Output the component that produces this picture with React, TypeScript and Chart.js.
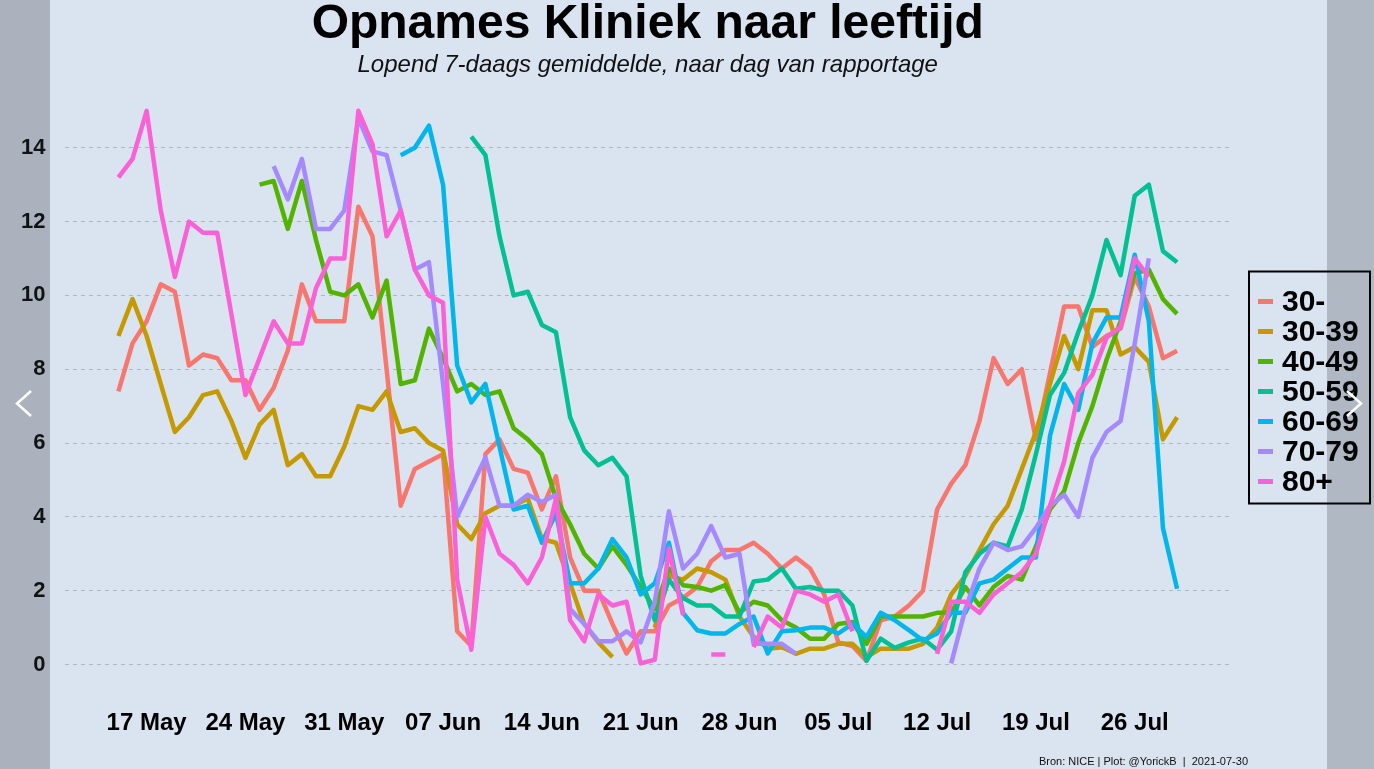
import React, { useEffect, useRef } from "react";
import { Chart, registerables } from "chart.js";

Chart.register(...registerables);

const n = null;

// Age groups, in legend order
const ageGroups = ["30-", "30-39", "40-49", "50-59", "60-69", "70-79", "80+"];
const groupColors = ["#F8766D", "#C49A00", "#53B400", "#00C094", "#00B6EB", "#A58AFF", "#FB61D7"];

// Day index 0 = 15 May 2021, last index = 29 Jul 2021
const tickDays = [2, 9, 16, 23, 30, 37, 44, 51, 58, 65, 72];
const tickLabels = ["17 May", "24 May", "31 May", "07 Jun", "14 Jun", "21 Jun", "28 Jun", "05 Jul", "12 Jul", "19 Jul", "26 Jul"];
const yTicks = [0, 2, 4, 6, 8, 10, 12, 14];

// Rolling 7-day averages per age group
const group30min = [
  7.4, 8.7, 9.3, 10.3, 10.1, 8.1, 8.4, 8.3, 7.7, 7.7,
  6.9, 7.5, 8.5, 10.3, 9.3, 9.3, 9.3, 12.4, 11.6, 8.0,
  4.3, 5.3, 5.5, 5.7, 0.9, 0.5, 5.7, 6.1, 5.3, 5.2,
  4.2, 5.1, 2.9, 2.0, 2.0, 1.1, 0.3, 0.9, 0.9, 1.6,
  1.8, 2.1, 2.8, 3.1, 3.1, 3.3, 3.0, 2.6, 2.9, 2.6,
  1.9, 0.6, 0.5, 0.1, 1.2, 1.3, 1.6, 2.0, 4.2, 4.9,
  5.4, 6.6, 8.3, 7.6, 8.0, 6.1, 7.9, 9.7, 9.7, 8.6,
  8.9, 9.1, 10.5, 9.7, 8.3, 8.5,
];
const group30to39 = [
  8.9, 9.9, 8.9, 7.6, 6.3, 6.7, 7.3, 7.4, 6.6, 5.6,
  6.5, 6.9, 5.4, 5.7, 5.1, 5.1, 5.9, 7.0, 6.9, 7.4,
  6.3, 6.4, 6.0, 5.8, 3.8, 3.4, 4.1, 4.3, 4.3, 4.5,
  3.4, 3.3, 2.2, 1.1, 0.6, 0.2, n, n, 1.0, 2.4,
  2.3, 2.6, 2.5, 2.3, 1.3, 0.75, 0.43, 0.47, 0.29, 0.43,
  0.43, 0.56, 0.56, 0.2, 0.43, 0.43, 0.43, 0.56, 1.0, 1.9,
  2.4, 3.1, 3.8, 4.3, 5.3, 6.3, 7.6, 8.9, 8.0, 9.6,
  9.6, 8.4, 8.6, 8.2, 6.1, 6.7,
];
const group40to49 = [
  n, n, n, n, n, n, n, n, n, n,
  13.0, 13.1, 11.8, 13.1, 11.5, 10.1, 10.0, 10.3, 9.4, 10.4,
  7.6, 7.7, 9.1, 8.3, 7.4, 7.6, 7.3, 7.4, 6.4, 6.1,
  5.7, 4.5, 3.8, 3.0, 2.6, 3.2, 2.7, 2.1, 1.5, 2.6,
  2.15, 2.1, 2.0, 2.15, 1.4, 1.7, 1.6, 1.2, 1.0, 0.7,
  0.7, 1.1, 1.15, 0.56, 1.3, 1.3, 1.3, 1.3, 1.4, 1.4,
  2.1, 1.6, 2.1, 2.4, 2.3, 3.2, 4.2, 4.7, 6.0, 7.0,
  8.25, 9.3, 10.6, 10.7, 9.9, 9.5,
];
const group50to59 = [
  n, n, n, n, n, n, n, n, n, n,
  n, n, n, n, n, n, n, n, n, n,
  n, n, n, n, n, 14.3, 13.8, 11.6, 10.0, 10.1,
  9.2, 9.0, 6.7, 5.8, 5.4, 5.6, 5.1, 2.4, 1.2, 2.3,
  1.8, 1.6, 1.6, 1.3, 1.3, 2.25, 2.3, 2.6, 2.05, 2.1,
  2.0, 2.0, 1.6, 0.1, 0.7, 0.45, 0.6, 0.7, 0.4, 0.9,
  2.5, 3.0, 3.3, 3.2, 4.2, 5.7, 7.3, 7.9, 9.0, 10.0,
  11.5, 10.55, 12.7, 13.0, 11.2, 10.9,
];
const group60to69 = [
  n, n, n, n, n, n, n, n, n, n,
  n, n, n, n, n, n, n, n, n, n,
  13.8, 14.0, 14.6, 13.0, 8.1, 7.1, 7.6, 5.9, 4.2, 4.3,
  3.3, 4.1, 2.2, 2.2, 2.6, 3.4, 2.9, 1.9, 2.2, 3.3,
  1.4, 0.93, 0.84, 0.84, 1.1, 1.3, 0.3, 0.9, 0.93, 1.0,
  1.0, 0.84, 1.1, 0.75, 1.4, 1.2, 0.93, 0.65, 0.84, 1.4,
  1.4, 2.2, 2.3, 2.6, 2.9, 2.9, 6.2, 7.6, 6.9, 8.7,
  9.4, 9.4, 11.1, 9.3, 3.7, 2.05,
];
const group70to79 = [
  n, n, n, n, n, n, n, n, n, n,
  n, 13.5, 12.6, 13.7, 11.8, 11.8, 12.3, 14.8, 13.9, 13.8,
  12.3, 10.7, 10.9, 7.6, 4.0, 4.8, 5.6, 4.3, 4.3, 4.6,
  4.4, 4.6, 1.5, 1.1, 0.63, 0.63, 0.9, 0.6, 1.7, 4.15,
  2.6, 3.0, 3.75, 2.9, 3.0, 0.56, 0.56, 0.56, 0.29, n,
  n, n, n, n, n, n, n, n, n, 0.03,
  1.5, 2.6, 3.3, 3.1, 3.2, 3.7, 4.3, 4.6, 4.0, 5.6,
  6.3, 6.6, 8.7, 11.0, n, n,
];
const group80plus = [
  13.2, 13.7, 15.0, 12.3, 10.5, 12.0, 11.7, 11.7, 9.5, 7.3,
  8.3, 9.3, 8.7, 8.7, 10.2, 11.0, 11.0, 15.0, 14.1, 11.6,
  12.3, 10.7, 10.0, 9.8, 2.3, 0.4, 4.0, 3.0, 2.7, 2.2,
  2.9, 4.5, 1.2, 0.63, 1.9, 1.6, 1.7, 0.03, 0.13, 3.15,
  1.34, n, 0.27, 0.27, n, 0.47, 1.3, 1.0, 2.0, 1.9,
  1.7, 1.9, 0.9, n, n, n, n, n, 0.29, 1.7,
  1.7, 1.4, 1.9, 2.2, 2.5, 3.0, 4.3, 5.5, 7.35, 7.85,
  8.85, 9.15, 11.0, 10.5, n, n,
];

const groupSeries = [group30min, group30to39, group40to49, group50to59, group60to69, group70to79, group80plus];

const FONT = "'Liberation Sans', Arial, sans-serif";

// Boxed legend on the right plus the source line at the bottom
const extrasPlugin = {
  id: "extras",
  afterDraw(chart: any) {
    const ctx = chart.ctx as CanvasRenderingContext2D;
    const area = chart.chartArea;
    const sets = chart.data.datasets;
    const boxLeft = area.right + 19;
    const boxTop = 271.5;
    const rowH = 30;
    const boxW = 121;
    const boxH = 232;
    ctx.save();
    ctx.strokeStyle = "#000";
    ctx.lineWidth = 2;
    ctx.strokeRect(boxLeft, boxTop, boxW, boxH);
    ctx.font = `bold 30px ${FONT}`;
    ctx.textBaseline = "middle";
    ctx.textAlign = "left";
    sets.forEach((ds: any, i: number) => {
      const y = boxTop + 30 + i * rowH;
      ctx.strokeStyle = ds.borderColor;
      ctx.lineWidth = 5;
      ctx.lineCap = "butt";
      ctx.beginPath();
      ctx.moveTo(boxLeft + 9, y);
      ctx.lineTo(boxLeft + 24, y);
      ctx.stroke();
      ctx.fillStyle = "#000";
      ctx.fillText(ds.label, boxLeft + 33, y + 1);
    });
    ctx.font = `11px ${FONT}`;
    ctx.fillStyle = "#111";
    ctx.textAlign = "right";
    ctx.textBaseline = "alphabetic";
    ctx.fillText("Bron: NICE | Plot: @YorickB  |  2021-07-30", area.right + 18, 765);
    ctx.restore();
  },
};

export default function App() {
  const canvasRef = useRef<HTMLCanvasElement | null>(null);

  useEffect(() => {
    if (!canvasRef.current) return;
    Chart.defaults.font.family = FONT;
    const datasets = ageGroups.map((label, i) => ({
      label,
      data: groupSeries[i].map((y, x) => ({ x, y })),
      borderColor: groupColors[i],
      backgroundColor: groupColors[i],
      borderWidth: 4.5,
      pointRadius: 0,
      tension: 0,
      spanGaps: false,
      borderCapStyle: "butt" as const,
      borderJoinStyle: "round" as const,
      order: ageGroups.length - i,
    }));
    const chart = new Chart(canvasRef.current, {
      type: "line",
      data: { datasets },
      plugins: [extrasPlugin],
      options: {
        responsive: false,
        maintainAspectRatio: false,
        animation: false,
        layout: { padding: { left: 1, right: 144, top: 0, bottom: 15 } },
        plugins: {
          legend: { display: false },
          tooltip: { enabled: false },
          title: {
            display: true,
            text: "Opnames Kliniek naar leeftijd",
            color: "#000",
            fullSize: false,
            font: { family: FONT, size: 48, weight: "bold", lineHeight: 0.92 },
            padding: { top: 3, bottom: 0 },
          },
          subtitle: {
            display: true,
            text: "Lopend 7-daags gemiddelde, naar dag van rapportage",
            color: "#111",
            fullSize: false,
            font: { family: FONT, size: 24, style: "italic", lineHeight: 1 },
            padding: { top: 6, bottom: 6 },
          },
        },
        scales: {
          x: {
            type: "linear",
            min: -3.75,
            max: 78.75,
            grid: { display: false, drawTicks: false },
            border: { display: false },
            afterBuildTicks: (scale: any) => {
              scale.ticks = tickDays.map((value) => ({ value }));
            },
            ticks: {
              autoSkip: false,
              maxRotation: 0,
              padding: 16.5,
              color: "#000",
              font: { size: 24, weight: "bold" },
              callback: (value: any) => {
                const k = tickDays.indexOf(Number(value));
                return k >= 0 ? tickLabels[k] : "";
              },
            },
          },
          y: {
            type: "linear",
            min: -0.75,
            max: 15.75,
            afterBuildTicks: (scale: any) => {
              scale.ticks = yTicks.map((value) => ({ value }));
            },
            grid: { color: "rgba(140,145,155,0.55)", lineWidth: 1, drawTicks: false },
            border: { display: false, dash: [4, 4] },
            ticks: {
              padding: 20,
              color: "#111",
              font: { size: 22, weight: "bold" },
            },
          },
        },
      },
    });
    return () => chart.destroy();
  }, []);

  return (
    <div
      style={{
        position: "fixed",
        left: 0,
        top: 0,
        width: 1374,
        height: 769,
        background: "#dae3f0",
        overflow: "hidden",
      }}
    >
      <canvas ref={canvasRef} width={1374} height={769} style={{ display: "block", width: 1374, height: 769 }} />
      <div style={{ position: "absolute", left: 0, top: 0, width: 50, height: 769, background: "rgba(20,25,35,0.24)" }} />
      <div style={{ position: "absolute", left: 1327, top: 0, width: 47, height: 769, background: "rgba(20,25,35,0.21)" }} />
      <svg width={1374} height={769} style={{ position: "absolute", left: 0, top: 0 }}>
        <polyline points="31,391 17,403.5 31,416" fill="none" stroke="#fff" strokeWidth={2.5} />
        <polyline points="1347,391 1361,403.5 1347,416" fill="none" stroke="#fff" strokeWidth={2.5} />
      </svg>
    </div>
  );
}
